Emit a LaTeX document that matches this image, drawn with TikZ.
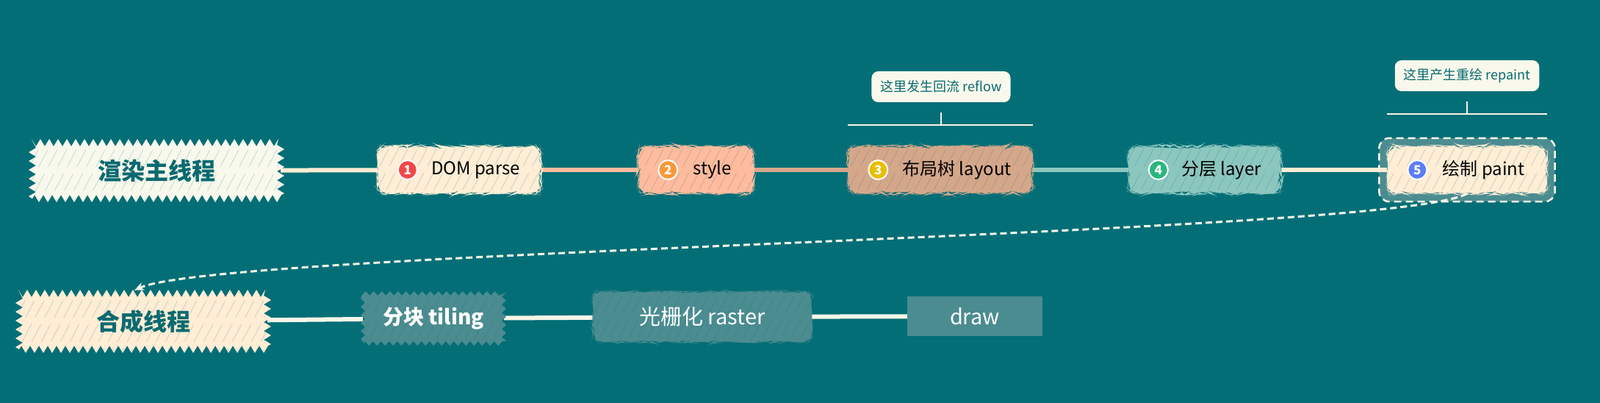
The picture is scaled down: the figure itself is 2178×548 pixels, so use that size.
\documentclass[tikz,border=0pt]{standalone}
\usepackage{fontspec}
\setmainfont{Noto Sans CJK SC}
\usetikzlibrary{positioning, arrows.meta, fit, backgrounds, decorations.pathmorphing}
\definecolor{bgteal}{HTML}{046E76}
\definecolor{inkteal}{HTML}{0A6A70}
\definecolor{notefill}{HTML}{F8F8EC}
\definecolor{peach}{HTML}{FFEDD5}
\definecolor{salmon}{HTML}{FFBB9E}
\definecolor{claytan}{HTML}{D5A78A}
\definecolor{mint}{HTML}{8CC7BF}
\definecolor{paleteal}{HTML}{4B8C90}
\definecolor{linecream}{HTML}{F6F6E8}
\definecolor{badgered}{HTML}{F04848}
\definecolor{badgeorange}{HTML}{F7993A}
\definecolor{badgeyellow}{HTML}{E8BE00}
\definecolor{badgegreen}{HTML}{2BB67E}
\definecolor{badgeblue}{HTML}{5C7DF5}
\tikzset{
	>={Stealth[length=13pt, width=11pt]}, % Punta de flecha
	hatch/.style={path picture={
		\foreach \k in {-20,...,20}
			\draw[bgteal, opacity=0.28, line width=0.6pt, dash pattern=on 26pt off 11pt]
				([xshift=\k*13pt, yshift=-60pt]path picture bounding box.center) -- ++(62:140pt);
	}}, % Rayado a mano
	thread/.style={fill=#1, hatch, decorate, decoration={zigzag, segment length=12pt, amplitude=5pt},
		minimum width=338pt, minimum height=76pt, text=inkteal, font=\bfseries\fontsize{32}{32}\selectfont}, % Hilos
	stage/.style={fill=#1, hatch, rounded corners=12pt, decorate, decoration={random steps, segment length=5pt, amplitude=1.5pt},
		minimum height=64pt, inner xsep=0pt, font=\fontsize{24}{24}\selectfont}, % Etapas
	task/.style={fill=paleteal, hatch, minimum height=68pt, inner xsep=0pt, text=white, font=\fontsize{29}{29}\selectfont}, % Tareas
	badge/.style={circle, fill=#1, draw=white, line width=2pt, minimum size=26pt, inner sep=0pt,
		text=white, font=\bfseries\fontsize{17}{17}\selectfont}, % Numeros
	note/.style={fill=notefill, rounded corners=9pt, minimum height=42pt, inner xsep=12pt,
		text=inkteal, font=\fontsize{18}{18}\selectfont}, % Notas
	link/.style={line width=6pt, draw=#1}, % Uniones
	brace/.style={line width=2.5pt, draw=linecream} % Corchetes
}

\begin{document}
\begin{tikzpicture}[x=1pt, y=-1pt]
	\useasboundingbox (0,0) rectangle (2178,548);
	% hilo principal
	\node[thread=notefill] (render) at (213,232) {渲染主线程};
	\node[stage=peach, minimum width=222pt] (dom) at (625,231) {\hspace{45pt}DOM parse};
	\node[stage=salmon, minimum width=157pt] (css) at (947,231) {\hspace{45pt}style};
	\node[stage=claytan, minimum width=251pt] (layout) at (1280,231) {\hspace{45pt}布局树 layout};
	\node[stage=mint, minimum width=208pt] (layer) at (1640,231) {\hspace{45pt}分层 layer};
	\node[stage=peach, minimum width=217pt] (paint) at (1997,231) {\hspace{45pt}绘制 paint};
	\node[badge=badgered] (n1) at ([xshift=41pt]dom.west) {1};
	\node[badge=badgeorange] (n2) at ([xshift=41pt]css.west) {2};
	\node[badge=badgeyellow] (n3) at ([xshift=41pt]layout.west) {3};
	\node[badge=badgegreen] (n4) at ([xshift=41pt]layer.west) {4};
	\node[badge=badgeblue] (n5) at ([xshift=41pt]paint.west) {5};
	% notas
	\node[note] (reflow) at (1281,118) {这里发生回流 reflow};
	\node[note] (repaint) at (1997,103) {这里产生重绘 repaint};
	\coordinate (reflowbar) at (1281,170);
	\coordinate (repaintbar) at (1997,155);
	\draw[brace] (layout.west |- reflowbar) -- (layout.east |- reflowbar);
	\draw[brace] (reflowbar) -- ([yshift=17pt]reflowbar);
	\draw[brace] (paint.west |- repaintbar) -- (paint.east |- repaintbar);
	\draw[brace] (repaintbar) -- ([yshift=17pt]repaintbar);
	% hilo de composicion
	\node[thread=peach] (compose) at (195,437) {合成线程};
	\node[task, minimum width=192pt, decorate, decoration={zigzag, segment length=11pt, amplitude=3pt},
		font=\bfseries\fontsize{28}{28}\selectfont] (tiling) at (590,433) {分块 tiling};
	\node[task, minimum width=297pt, rounded corners=10pt, decorate,
		decoration={random steps, segment length=5pt, amplitude=1.5pt}] (raster) at (956,431) {光栅化 raster};
	\node[fill=paleteal, minimum width=184pt, minimum height=54pt, text=white,
		font=\fontsize{29}{29}\selectfont] (drawstep) at (1327,430) {draw};
	\draw[->, line width=3pt, draw=linecream, dash pattern=on 9pt off 5pt]
		(paint.south) .. controls (1900,320) and (300,340) .. ([xshift=-12pt, yshift=4pt]compose.north);
	\begin{scope}[on background layer]
		\fill[bgteal] (0,0) rectangle (2178,548);
		\node[fit=(paint), inner sep=11pt, rounded corners=14pt, fill=paleteal, draw=linecream,
			line width=2.5pt, dash pattern=on 10pt off 6pt] (paintgroup) {};
		\draw[link=peach] (render) -- (dom);
		\draw[link=salmon] (dom) -- (css);
		\draw[link=claytan] (css) -- (layout);
		\draw[link=mint] (layout) -- (layer);
		\draw[link=peach] (layer) -- (paint);
		\draw[link=linecream] (compose) -- (tiling);
		\draw[link=linecream] (tiling) -- (raster);
		\draw[link=linecream] (raster) -- (drawstep);
	\end{scope}
\end{tikzpicture}
\end{document}
